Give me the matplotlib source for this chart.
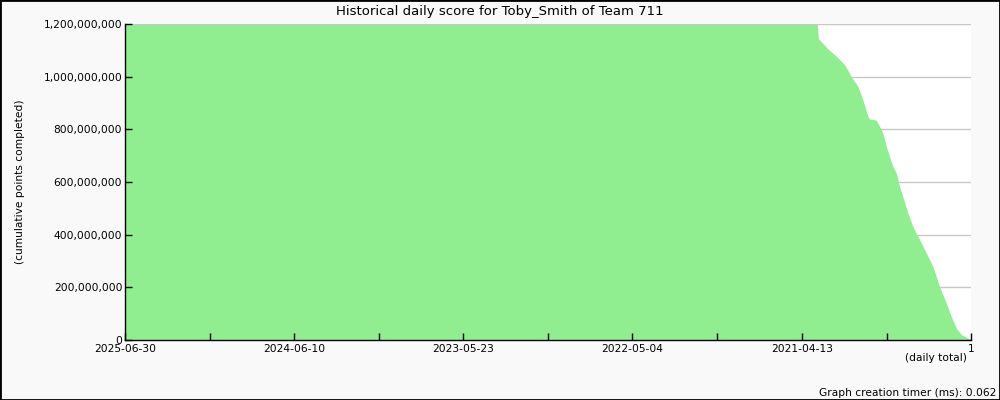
import datetime as dt
import matplotlib
matplotlib.use("Agg")
import matplotlib.pyplot as plt
from matplotlib.ticker import FuncFormatter

# day index (1 = first day) and cumulative score
days = [1924, 1400, 1000, 700, 352, 346.5, 325.4, 306.3, 287.4, 279.9, 272.2,
        257.2, 245.8, 234.4, 230.6, 215.3, 207.8, 200.3, 192.6, 185.1, 177.6,
        169.9, 162.4, 153.3, 143.5, 132.2, 116.9, 101.7, 86.7, 71.5, 56.2,
        44.9, 33.5, 22.1, 10.8, 3.2, 1]
scores = [1.60e9, 1.52e9, 1.45e9, 1.38e9, 1.25e9, 1.142e9, 1.104e9, 1.076e9,
          1.044e9, 1.023e9, 0.998e9, 0.962e9, 0.911e9, 0.848e9, 0.838e9,
          0.833e9, 0.810e9, 0.785e9, 0.734e9, 0.696e9, 0.658e9, 0.633e9,
          0.582e9, 0.534e9, 0.481e9, 0.430e9, 0.380e9, 0.329e9, 0.278e9,
          0.202e9, 0.139e9, 0.088e9, 0.044e9, 0.019e9, 0.0087e9, 0.003e9, 0]

first_day = dt.date(2020, 3, 25)
tick_dates = ["2025-06-30", "2024-06-10", "2023-05-23", "2022-05-04", "2021-04-13"]
yticks = [0, 2e8, 4e8, 6e8, 8e8, 10e8, 12e8]

title = "Historical daily score for Toby_Smith of Team 711"

bg = "#f9f9f9"
fig = plt.figure(figsize=(10, 4), dpi=100, facecolor=bg)
fig.patches.append(plt.Rectangle((0, 0), 1, 1, transform=fig.transFigure,
                                 fill=False, edgecolor="black", linewidth=2))
ax = fig.add_axes([0.125, 0.15, 0.846, 0.79])
ax.set_facecolor("white")

# grid lines behind the area, the top one stays visible
for v in yticks[1:]:
    ax.axhline(v, color="#c8c8c8", linewidth=1,
               zorder=1.5 if v == max(yticks) else 0.5)

ax.fill_between(days, scores, 0, color="#90ee90", linewidth=0, zorder=1)

# x positions of date ticks as day indices
tick_pos = [(dt.date.fromisoformat(d) - first_day).days + 1 for d in tick_dates]
major = tick_pos + [1]
minor = [(a + b) / 2 for a, b in zip(major[:-1], major[1:])]
ax.set_xlim(max(days), 1)
ax.set_xticks(major)
ax.set_xticklabels(tick_dates + ["1"])
ax.set_xticks(minor, minor=True)

ax.set_ylim(0, 1.2e9)
ax.set_yticks(yticks)
ax.yaxis.set_major_formatter(FuncFormatter(lambda v, p: f"{int(v):,}"))

for s in ["top", "right"]:
    ax.spines[s].set_visible(False)
for s in ["left", "bottom"]:
    ax.spines[s].set_linewidth(1)

ax.tick_params(axis="both", which="both", direction="in", length=5,
               labelsize=7.7, pad=2, width=1)
ax.tick_params(axis="x", pad=3)

fig.text(0.5, 1 - 11 / 400, title, fontsize=9.5, ha="center", va="center")
ax.set_ylabel("(cumulative points completed)", fontsize=7.7, labelpad=13)
fig.text(0.967, 0.105, "(daily total)", fontsize=7.7, ha="right", va="center")
fig.text(0.996, 0.018, "Graph creation timer (ms): 0.062", fontsize=7.7,
         ha="right", va="center")

fig.savefig("out.png", dpi=100, facecolor=bg)
